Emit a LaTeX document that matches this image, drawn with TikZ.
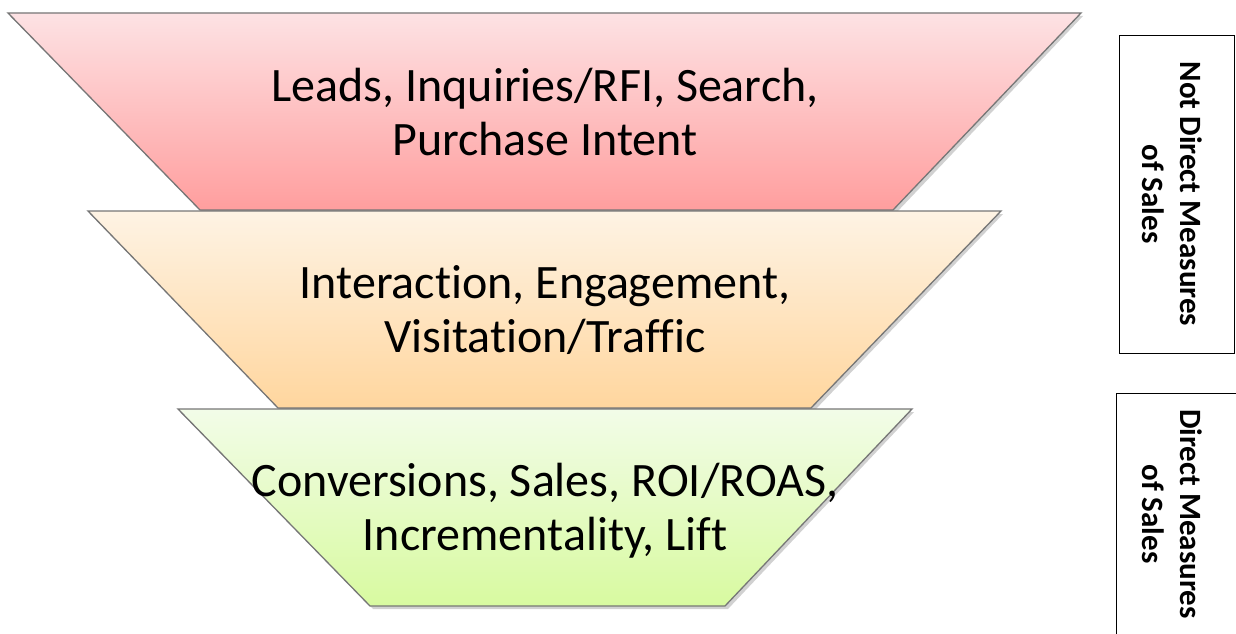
\documentclass[tikz,border=0pt]{standalone}
\usepackage{fontspec}
\setmainfont[Ligatures={NoCommon}]{Carlito}
\definecolor{pinkT}{RGB}{253,226,228}
\definecolor{pinkB}{RGB}{255,158,158}
\definecolor{orT}{RGB}{254,243,228}
\definecolor{orB}{RGB}{255,214,158}
\definecolor{grT}{RGB}{242,252,232}
\definecolor{grB}{RGB}{216,250,160}
\definecolor{edge}{RGB}{118,118,118}
\tikzset{
  layer/.style={draw=edge, line width=1.3pt, line join=miter},
  shade/.style={fill=black, fill opacity=0.18, draw=none},
  label/.style={font=\fontsize{48}{54}\selectfont, align=center, text=black, inner sep=0pt},
  sidebox/.style={draw=black, line width=1pt},
  sidetext/.style={font=\fontsize{31}{38}\selectfont\bfseries, align=center, rotate=-90, inner sep=0pt}
}
\begin{document}
\begin{tikzpicture}[x=1pt, y=-1pt]
\useasboundingbox (0,0) rectangle (1236,634);
\clip (0,0) rectangle (1236,634);
% shadows
\path[shade] (10,16) -- (1083,16) -- (896,213) -- (203,213) -- cycle;
\path[shade] (90,214) -- (1003,214) -- (814,411) -- (281,411) -- cycle;
\path[shade] (180,412) -- (914,412) -- (728,609) -- (373,609) -- cycle;
% layers
\path[layer, top color=pinkT, bottom color=pinkB] (8,13) -- (1081,13) -- (893,210) -- (200,210) -- cycle;
\path[layer, top color=orT, bottom color=orB] (88,211) -- (1001,211) -- (811,408) -- (278,408) -- cycle;
\path[layer, top color=grT, bottom color=grB] (178,409) -- (912,409) -- (725,606) -- (370,606) -- cycle;
% labels
\node[label] (t1) at (545,112) {Leads, Inquiries/RFI, Search,\\Purchase Intent};
\node[label] (t2) at (545,310) {Interaction, Engagement,\\Visitation/Traffic};
\node[label] (t3) at (545,511) {Conversions, Sales, ROI/ROAS,\\Incrementality, Lift};
% side boxes
\draw[sidebox] (1119,36) rectangle (1234,353);
\draw[sidebox] (1116,393) rectangle (1245,660);
\node[sidetext] (s1) at (1172,194) {Not Direct Measures\\of Sales};
\node[sidetext] (s2) at (1172,514) {Direct Measures\\of Sales};
\end{tikzpicture}
\end{document}
